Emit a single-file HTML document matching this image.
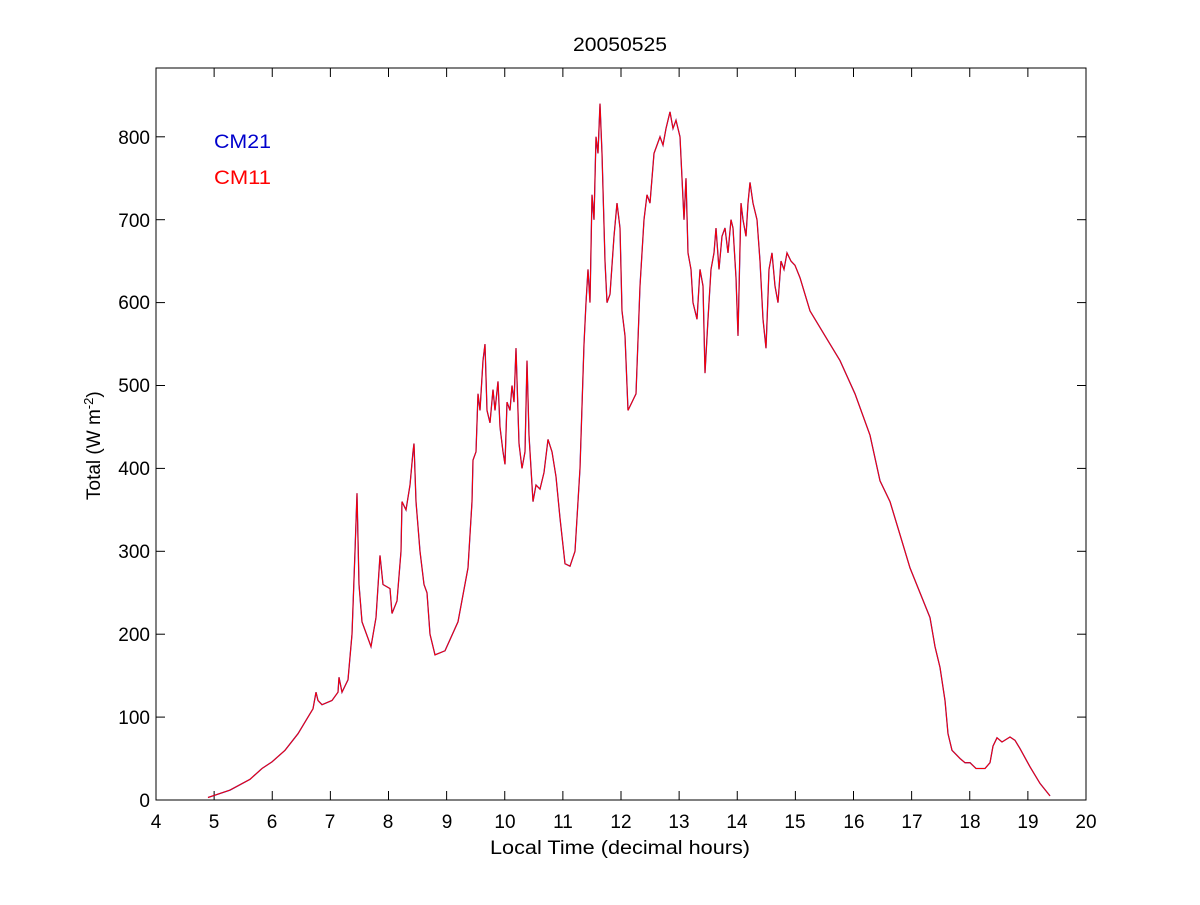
<!DOCTYPE html>
<html><head><meta charset="utf-8"><style>
body{margin:0;background:#fff;}
svg text{font-family:"Liberation Sans",sans-serif;font-size:19px;fill:#000;}
</style></head><body>
<svg id="s" width="1200" height="900" xmlns="http://www.w3.org/2000/svg">
<rect x="0" y="0" width="1200" height="900" fill="#fff"/>
<rect x="156" y="68" width="930" height="732" fill="none" stroke="#000" stroke-width="1"/>
<g id="ticks" stroke="#000" stroke-width="1"></g>
<g text-anchor="middle">
<text x="156" y="828">4</text><text x="214" y="828">5</text><text x="272" y="828">6</text><text x="330" y="828">7</text><text x="388" y="828">8</text><text x="447" y="828">9</text><text x="505" y="828">10</text><text x="563" y="828">11</text><text x="621" y="828">12</text><text x="679" y="828">13</text><text x="737" y="828">14</text><text x="795" y="828">15</text><text x="854" y="828">16</text><text x="912" y="828">17</text><text x="970" y="828">18</text><text x="1028" y="828">19</text><text x="1086" y="828">20</text>
</g>
<text x="490" y="854" textLength="260" lengthAdjust="spacingAndGlyphs">Local Time (decimal hours)</text>
<text x="573" y="51" textLength="94" lengthAdjust="spacingAndGlyphs">20050525</text>
<g text-anchor="end">
<text x="150" y="807">0</text><text x="150" y="724">100</text><text x="150" y="641">200</text><text x="150" y="558">300</text><text x="150" y="475">400</text><text x="150" y="392">500</text><text x="150" y="309">600</text><text x="150" y="227">700</text><text x="150" y="144">800</text>
</g>
<text transform="translate(100,500) rotate(-90)">Total (W m<tspan dy="-7" font-size="13">-2</tspan><tspan dy="7">)</tspan></text>
<text x="214" y="148" style="fill:#0000cc" textLength="57" lengthAdjust="spacingAndGlyphs">CM21</text>
<text x="214" y="184" style="fill:#ff0000" textLength="57" lengthAdjust="spacingAndGlyphs">CM11</text>
<polyline id="b" fill="none" stroke="#2020c0" stroke-width="1.3"/>
<polyline id="r" fill="none" stroke="#ff0000" stroke-width="1"/>
</svg>
<script>
var d=[208,3,230,12,250,25,262,38,272,46,285,60,298,80,308,100,313,110,316,130,318,120,322,115,332,120,338,130,339,148,342,130,348,145,352,200,355,300,357,370,359,260,362,215,368,195,371,185,376,220,380,295,383,260,390,255,392,225,397,240,401,300,402,360,406,350,410,380,413,420,414,430,416,360,420,300,424,260,427,250,430,200,435,175,445,180,458,215,468,280,472,360,473,410,476,420,478,490,480,470,483,530,485,550,487,470,490,455,493,495,495,470,498,505,500,450,503,420,505,405,507,480,510,470,512,500,514,480,516,545,519,430,522,400,525,420,527,530,529,440,533,360,536,380,540,375,544,395,548,435,552,420,556,390,560,340,565,285,570,282,575,300,580,400,584,550,586,600,588,640,590,600,592,730,594,700,596,800,598,780,600,840,602,780,605,650,607,600,610,610,614,680,617,720,620,690,622,590,625,560,628,470,632,480,636,490,640,620,644,700,647,730,650,720,654,780,657,790,660,800,663,790,666,810,670,830,673,810,676,820,680,800,684,700,686,750,688,660,691,640,693,600,697,580,700,640,703,620,705,515,708,580,711,640,714,660,716,690,719,640,722,680,725,690,728,660,731,700,733,690,736,630,738,560,741,720,743,700,746,680,748,720,750,745,753,720,757,700,760,650,763,580,766,545,769,640,772,660,775,620,778,600,781,650,784,640,787,660,791,650,795,645,800,630,805,610,810,590,815,580,825,560,840,530,855,490,870,440,880,385,890,360,900,320,910,280,920,250,930,220,935,185,940,160,945,120,948,80,952,60,960,50,965,45,970,45,976,38,985,38,990,45,993,65,997,75,1002,70,1010,76,1015,72,1020,62,1030,40,1040,20,1050,5];
var p=[];for(var i=0;i<d.length;i+=2)p.push(d[i]+","+(800-0.829*d[i+1]).toFixed(1));
document.getElementById("b").setAttribute("points",p.join(" "));
document.getElementById("r").setAttribute("points",p.join(" "));
var g=document.getElementById("ticks"),h="";
for(var k=0;k<=16;k++){var x=156+k*58.125;h+='<line x1="'+x+'" y1="800" x2="'+x+'" y2="791"/><line x1="'+x+'" y1="68" x2="'+x+'" y2="77"/>';}
for(var k=0;k<=8;k++){var y=800-k*82.9;h+='<line x1="156" y1="'+y+'" x2="165" y2="'+y+'"/><line x1="1086" y1="'+y+'" x2="1077" y2="'+y+'"/>';}
g.innerHTML=h;
</script>
</body></html>
